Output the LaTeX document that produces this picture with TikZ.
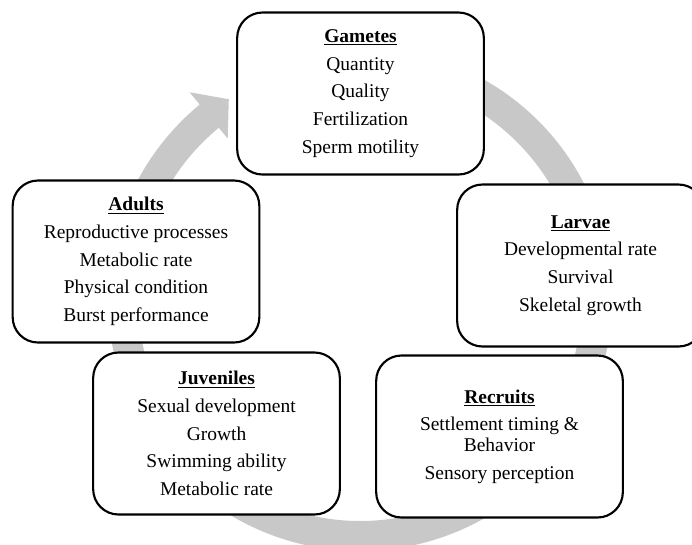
\documentclass[tikz,border=0pt]{standalone}
\usepackage{fontspec}
\setmainfont{Liberation Serif}
\usepackage{tikz}
\tikzset{every picture/.style={
  x=0.75pt, y=-0.75pt           % Pixel units, y running downwards.
  }
}
\definecolor{ringgray}{RGB}{200,200,200}

\begin{document}
\begin{tikzpicture}[
    stage/.style={
      rectangle,
      rounded corners=19pt,
      draw,
      line width=1.6pt,
      fill=white,
      align=center,
      inner sep=0pt,
      minimum width=185pt,
      minimum height=121.5pt,
      font=\fontsize{14.6}{15.5}\selectfont
    },
    ring/.style={
      fill=ringgray
    }]

    \clip (0,0) rectangle (692,544);

    % The grey cycle arrow, running clockwise behind the stages.
    \coordinate (hub) at (360,299);
    \fill[ring] ([shift={(hub)}]-110:252)
      arc[start angle=-110,end angle=230.5,radius=252]
      -- ([shift={(hub)}]230.5:268) -- ([shift={(hub)}]236.7:239)
      -- ([shift={(hub)}]230.5:208) -- ([shift={(hub)}]230.5:222)
      arc[start angle=230.5,end angle=-110,radius=222] -- cycle;

    % One box per life stage.
    \node[stage] (gametes) at (360.5,93.5)
      {\underline{\textbf{Gametes}}\\[5.2pt] Quantity\\[5.2pt] Quality\\[5.2pt]
       Fertilization\\[5.2pt] Sperm motility};
    \node[stage] (larvae) at (580.5,265.5)
      {\underline{\textbf{Larvae}}\\[5.2pt] Developmental rate\\[5.2pt] Survival\\[5.2pt]
       Skeletal growth};
    \node[stage] (recruits) at (499.5,436.5)
      {\underline{\textbf{Recruits}}\\[5.2pt] Settlement timing \&\\ Behavior\\[5.2pt]
       Sensory perception};
    \node[stage] (juveniles) at (216.5,433.5)
      {\underline{\textbf{Juveniles}}\\[5.2pt] Sexual development\\[5.2pt] Growth\\[5.2pt]
       Swimming ability\\[5.2pt] Metabolic rate};
    \node[stage] (adults) at (136,261.5)
      {\underline{\textbf{Adults}}\\[5.2pt] Reproductive processes\\[5.2pt] Metabolic rate\\[5.2pt]
       Physical condition\\[5.2pt] Burst performance};
\end{tikzpicture}
\end{document}
